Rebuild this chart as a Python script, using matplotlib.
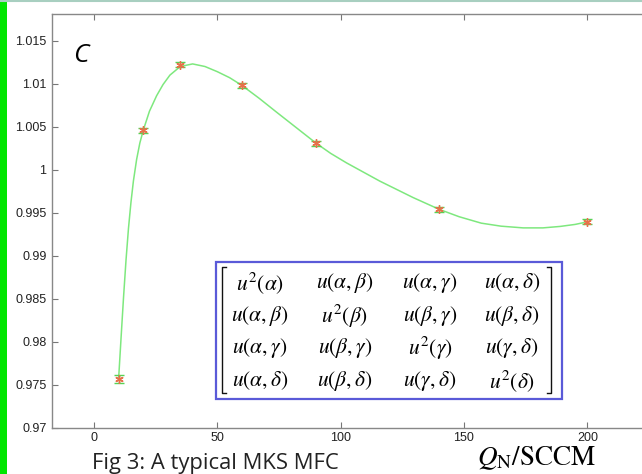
import matplotlib
matplotlib.use("Agg")
import matplotlib.pyplot as plt
from matplotlib.patches import Rectangle
from matplotlib.lines import Line2D

# measured points (flow in SCCM, normalised ratio) with error bars
flow = [10, 20, 35, 60, 90, 140, 200]
ratio = [0.9757, 1.0046, 1.0122, 1.0098, 1.0031, 0.9954, 0.99395]
err = [0.0005, 0.0003, 0.0003, 0.0003, 0.0003, 0.0003, 0.0003]

# fitted curve
fit_x = [10, 11, 12, 13, 14, 15, 16, 17.3, 18.6, 20, 22.5, 25.4, 28, 30.8,
         35, 40, 45, 50, 55, 60, 67, 74, 82, 90, 96, 102.4, 115.9, 129.4,
         140, 148, 157, 165, 174, 182, 189, 195, 200]
fit_y = [0.9757, 0.9805, 0.9852, 0.9895, 0.9932, 0.9962, 0.9987, 1.0012,
         1.0031, 1.0046, 1.0068, 1.0086, 1.0099, 1.0110, 1.0120, 1.0123,
         1.0120, 1.0114, 1.0107, 1.0098, 1.0083, 1.0067, 1.0049, 1.0031,
         1.0019, 1.0008, 0.99868, 0.99677, 0.9954, 0.99455, 0.9938, 0.99345,
         0.99325, 0.99325, 0.99342, 0.99365, 0.99395]

xticks = [0, 50, 100, 150, 200]
yticks = [0.97, 0.975, 0.98, 0.985, 0.99, 0.995, 1.0, 1.005, 1.01, 1.015]
ytick_labels = ['0.97', '0.975', '0.98', '0.985', '0.99', '0.995', '1',
                '1.005', '1.01', '1.015']

matrix = [
    [r'$u^2(\alpha)$', r'$u(\alpha,\beta)$', r'$u(\alpha,\gamma)$', r'$u(\alpha,\delta)$'],
    [r'$u(\alpha,\beta)$', r'$u^2(\beta)$', r'$u(\beta,\gamma)$', r'$u(\beta,\delta)$'],
    [r'$u(\alpha,\gamma)$', r'$u(\beta,\gamma)$', r'$u^2(\gamma)$', r'$u(\gamma,\delta)$'],
    [r'$u(\alpha,\delta)$', r'$u(\beta,\delta)$', r'$u(\gamma,\delta)$', r'$u^2(\delta)$'],
]

plt.rcParams['mathtext.fontset'] = 'stix'

W, H = 642, 474
fig = plt.figure(figsize=(W / 100, H / 100), dpi=100)
fig.patch.set_facecolor('white')


def fx(px):
    return px / W


def fy(py):
    return 1 - py / H


# green strip on the left and thin line at the top
fig.patches.append(Rectangle((0, 0), fx(6.5), 1, transform=fig.transFigure,
                             facecolor='#00e600', edgecolor='none'))
fig.lines.append(Line2D([0, 1], [fy(0.8), fy(0.8)], transform=fig.transFigure,
                        color='#a8cfc0', lw=1.5))

xmin, xmax = -17, 240
ax = fig.add_axes([fx(52), fy(428), fx((xmax - xmin) * 2.467), fy(14) - fy(428)])
ax.set_xlim(xmin, xmax)
ax.set_ylim(0.97, 1.0181)

ax.plot(fit_x, fit_y, color='#7ee87e', lw=1.1, zorder=2)
ax.errorbar(flow, ratio, yerr=err, fmt='none', ecolor='#55d455', elinewidth=1,
            capsize=3.5, capthick=1, zorder=3)
ax.plot(flow, ratio, ls='none', marker=(6, 2, 0), ms=6, mew=1,
        color='#e8704a', zorder=4)

ax.set_xticks(xticks)
ax.set_yticks(yticks)
ax.set_yticklabels(ytick_labels)
ax.tick_params(direction='in', length=4, width=0.8, colors='#777777',
               labelcolor='#222222', labelsize=9, top=True, pad=4)
ax.tick_params(axis='x', pad=3)
for lab in ax.get_xticklabels() + ax.get_yticklabels():
    lab.set_family('Liberation Sans')
for s in ax.spines.values():
    s.set_color('#888888')
    s.set_linewidth(1)

ax.text(0.033, 0.93, 'C', transform=ax.transAxes, fontsize=19,
        style='italic', family='Open Sans', va='top', ha='left')

# covariance matrix inset
fig.patches.append(Rectangle((fx(216), fy(399)), fx(562 - 216), fy(262) - fy(399),
                             transform=fig.transFigure, facecolor='white',
                             edgecolor='#5a5ad8', lw=1.6, zorder=5))
for bx, d in [(222, 1), (551, -1)]:
    fig.lines.append(Line2D([fx(bx + 4 * d), fx(bx), fx(bx), fx(bx + 4 * d)],
                            [fy(267), fy(267), fy(393), fy(393)],
                            transform=fig.transFigure, color='#111111', lw=1,
                            zorder=6))
row_y = [283, 316, 348, 381]
col_x = [260, 345, 430, 512]
for i, row in enumerate(matrix):
    for j, entry in enumerate(row):
        fig.text(fx(col_x[j]), fy(row_y[i]), entry, fontsize=15.5, ha='center',
                 va='center', zorder=7)

fig.text(fx(92), fy(469), 'Fig 3: A typical MKS MFC', fontsize=15.8,
         family='Open Sans', color='#222222', ha='left', va='baseline')
fig.text(fx(477), fy(465.5), r'$Q_{\mathrm{N}}/\mathrm{SCCM}$', fontsize=19.5,
         ha='left', va='baseline')

fig.savefig('out.png', dpi=100)
